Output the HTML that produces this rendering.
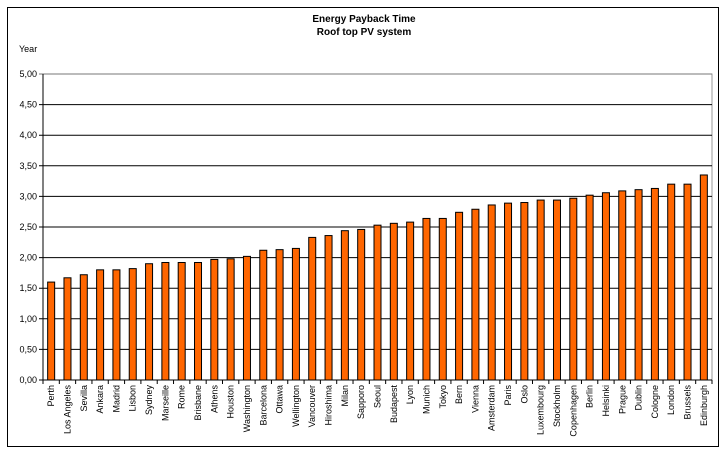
<!DOCTYPE html>
<html><head><meta charset="utf-8"><style>
body{margin:0;background:#fff;}
svg text{font-family:"Liberation Sans",Arial,sans-serif;}
</style></head><body>
<svg width="727" height="455">
<rect x="7.5" y="7.5" width="711" height="439" fill="#fff" stroke="#000"/>
<text x="364" y="22" font-size="10" font-weight="bold" text-anchor="middle">Energy Payback Time</text>
<text x="364" y="35" font-size="10" font-weight="bold" text-anchor="middle">Roof top PV system</text>
<text x="19" y="52" font-size="9">Year</text>
<g id="g"></g>
</svg>
<script>
const categories=["Perth","Los Angeles","Sevilla","Ankara","Madrid","Lisbon","Sydney","Marseille","Rome","Brisbane","Athens","Houston","Washington","Barcelona","Ottawa","Wellington","Vancouver","Hiroshima","Milan","Sapporo","Seoul","Budapest","Lyon","Munich","Tokyo","Bern","Vienna","Amsterdam","Paris","Oslo","Luxembourg","Stockholm","Copenhagen","Berlin","Helsinki","Prague","Dublin","Cologne","London","Brussels","Edinburgh"];
const values=[1.60,1.67,1.72,1.80,1.80,1.82,1.90,1.92,1.92,1.92,1.97,1.98,2.02,2.12,2.13,2.15,2.33,2.36,2.44,2.46,2.53,2.56,2.58,2.64,2.64,2.74,2.79,2.86,2.89,2.90,2.94,2.94,2.97,3.02,3.06,3.09,3.11,3.13,3.20,3.20,3.35];
const yTicks=[0,0.5,1,1.5,2,2.5,3,3.5,4,4.5,5];
const yTickLabels=["0,00","0,50","1,00","1,50","2,00","2,50","3,00","3,50","4,00","4,50","5,00"];
const NS="http://www.w3.org/2000/svg",g=document.getElementById('g');
const L=43,R=712,T=74,B=380;
const y=v=>B-(v/5)*(B-T);
const bw=(R-L)/categories.length;
const x=i=>L+i*bw;
function mk(t,a){const e=document.createElementNS(NS,t);for(const k in a)e.setAttribute(k,a[k]);g.appendChild(e);return e;}
let pa=mk('rect',{x:L,y:T,width:R-L,height:B-T,fill:'#fff',stroke:'#999'});


yTicks.forEach((v,i)=>{
 let l=mk('line',{x1:L-4,x2:R,y1:y(v),y2:y(v),stroke:i==yTicks.length-1?'#777':'#000','stroke-width':1});
 
 
 let t=mk('text',{x:L-6,y:y(v)+3,'font-size':9,'text-anchor':'end'});
 t.textContent=yTickLabels[i];
 
 
});
values.forEach((v,i)=>{
 let r=mk('rect',{x:x(i)+bw/2-3.5,y:y(v),width:7,height:B-y(v),fill:'#ff6600',stroke:'#000','stroke-width':1});
 
 
});
for(let i=0;i<=categories.length;i++){
 let tk=mk('line',{x1:x(i),x2:x(i),y1:B,y2:B+4,stroke:'#000'});
 
 
}
categories.forEach((c,i)=>{
 const cx=x(i)+bw/2+3;
 let t=mk('text',{x:0,y:0,'font-size':9,'text-anchor':'end',transform:`translate(${cx},385) rotate(-90)`});
 t.textContent=c;
 
 
});
let ax=mk('line',{x1:L,x2:L,y1:T,y2:B,stroke:'#000'});


let bx=mk('line',{x1:L,x2:R,y1:B,y2:B,stroke:'#000'});


</script>
</body></html>
